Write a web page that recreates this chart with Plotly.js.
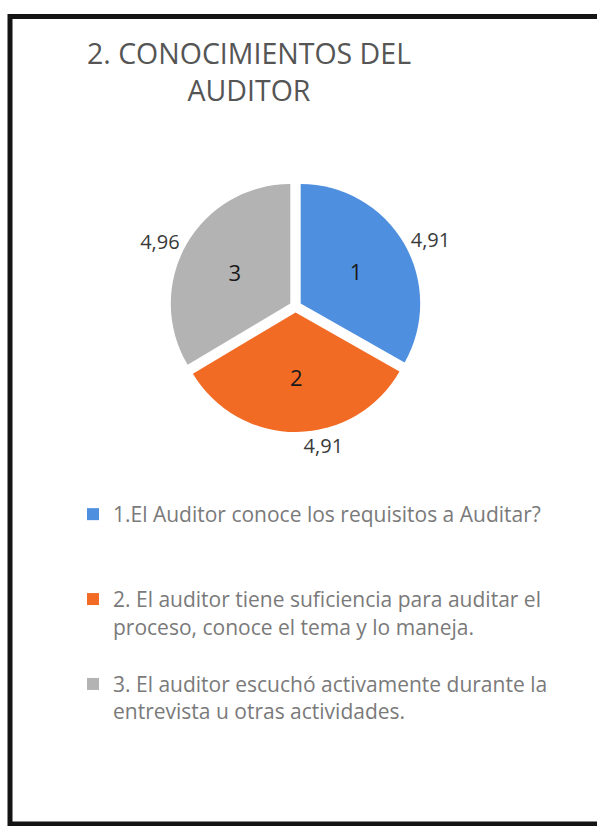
<!DOCTYPE html>
<html>
<head>
<meta charset="utf-8">
<script src="https://cdn.plot.ly/plotly-3.0.1.min.js"></script>
<style>
  html, body { margin: 0; padding: 0; background: #fff; }
  #chart { width: 597px; height: 826px; }
</style>
</head>
<body>
<div id="chart"></div>
<script>
// Conocimientos del auditor: average score per question
const QUESTIONS = [
  "1.El Auditor conoce los requisitos a Auditar?",
  "2. El auditor tiene suficiencia para auditar el<br>proceso, conoce el tema y lo maneja.",
  "3. El auditor escuchó activamente durante la<br>entrevista u otras actividades.",
];
const SHORT_LABELS = ["1", "2", "3"];
const SCORES = [4.91, 4.91, 4.96];
const SLICE_COLORS = ["#4f8fe0", "#f26b25", "#b3b3b3"];

const W = 597, H = 826;
const px = (x) => x / W;
const py = (y) => 1 - y / H;

const FONT = "'Open Sans', 'DejaVu Sans', sans-serif";
const domain = { x: [px(170), px(421)], y: [py(432), py(181)] };
const pull = SCORES.map(() => 0.05);

// legend entries padded with blank lines to spread them out like the original
const legendLabels = [
  QUESTIONS[0] + "<br>\u00a0<br>\u00a0",
  QUESTIONS[1] + "<br>\u00a0",
  QUESTIONS[2],
];

const slices = {
  type: "pie",
  labels: legendLabels,
  values: SCORES,
  text: SHORT_LABELS,
  texttemplate: "%{text}",
  textposition: "inside",
  insidetextorientation: "horizontal",
  insidetextfont: { color: "#1a1a1a", size: 22, family: FONT },
  marker: { colors: SLICE_COLORS, line: { width: 0 } },
  sort: false,
  direction: "clockwise",
  rotation: 0,
  pull,
  domain,
  hoverinfo: "skip",
};

// transparent copy only to carry the value labels outside the slices
const values = {
  type: "pie",
  labels: SHORT_LABELS.map((s) => "v" + s),
  values: SCORES,
  texttemplate: "%{value:.2f}",
  textposition: "outside",
  outsidetextfont: { color: "#3a3a3a", size: 20, family: FONT },
  marker: { colors: ["rgba(0,0,0,0)", "rgba(0,0,0,0)", "rgba(0,0,0,0)"], line: { width: 0 } },
  sort: false,
  direction: "clockwise",
  rotation: 0,
  pull,
  domain,
  showlegend: false,
  hoverinfo: "skip",
};

const layout = {
  width: W,
  height: H,
  margin: { t: 0, r: 0, b: 0, l: 0 },
  paper_bgcolor: "#ffffff",
  separators: ", ",
  title: {
    text: "2. CONOCIMIENTOS DEL<br>AUDITOR",
    x: px(249),
    xanchor: "center",
    y: py(64),
    yanchor: "top",
    font: { family: FONT, size: 28.5, color: "#555555" },
  },
  legend: {
    x: px(73),
    xanchor: "left",
    y: py(494),
    yanchor: "top",
    valign: "top",
    traceorder: "normal",
    font: { family: FONT, size: 21, color: "#7a7a7a" },
    bgcolor: "rgba(0,0,0,0)",
  },
  shapes: [
    {
      // frame: top, left and bottom edges (right edge is cut off in the scan)
      type: "path",
      xref: "paper", yref: "paper",
      path: `M 1.01 ${py(16.5)} L ${px(10)} ${py(16.5)} L ${px(10)} ${py(824)} L 1.01 ${py(824)}`,
      line: { color: "#141414", width: 5 },
    },
  ],
};

Plotly.newPlot("chart", [slices, values], layout, { displayModeBar: false, staticPlot: true });
</script>
</body>
</html>
